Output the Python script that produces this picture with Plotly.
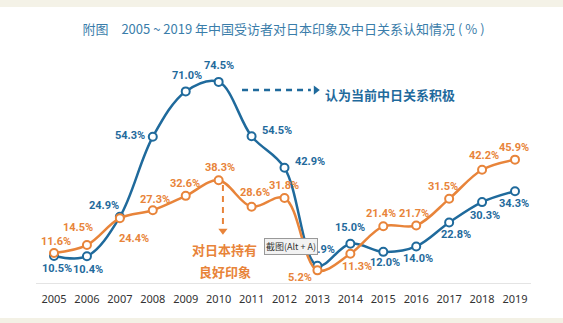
import plotly.graph_objects as go

years = list(range(2005, 2020))
relation_positive = [10.5, 10.4, 24.9, 54.3, 71.0, 74.5, 54.5, 42.9, 6.9, 15.0, 12.0, 14.0, 22.8, 30.3, 34.3]
good_impression = [11.6, 14.5, 24.4, 27.3, 32.6, 38.3, 28.6, 31.8, 5.2, 11.3, 21.4, 21.7, 31.5, 42.2, 45.9]
tick_labels = [str(y) for y in years]

title_text = "附图　2005 ~ 2019 年中国受访者对日本印象及中日关系认知情况 ( % )"
blue_note = "认为当前中日关系积极"
orange_note = ["对日本持有", "良好印象"]

BLUE = "#1f6a9c"
ORANGE = "#e8843a"
LABEL_FONT = "Roboto"
CJK = "Noto Sans CJK SC"

# label offsets (px) for each point: (xshift, yshift)
blue_off = [(3, -13), (1, -13), (-16, 11), (-23, 1), (1, 16), (0, 16), (25, 6), (25, 6),
            (6, 16), (0, 16), (2, -11), (2, -12), (7, -12), (3, -13), (-1, -12)]
orange_off = [(2, 11), (-9, 18), (14, -20), (2, 11), (-1, 12), (1, 13), (3, 14), (-1, 13),
              (-17, -7), (7, -13), (-2, 13), (-2, 12), (-6, 12), (2, 14), (-1, 12)]

fig = go.Figure()

fig.add_trace(go.Scatter(
    x=years, y=relation_positive, mode="lines+markers",
    line=dict(color=BLUE, width=2.5, shape="spline", smoothing=1.0),
    marker=dict(symbol="circle", size=8, color="white", line=dict(color=BLUE, width=2)),
    hoverinfo="skip", showlegend=False, cliponaxis=False))
fig.add_trace(go.Scatter(
    x=years, y=good_impression, mode="lines+markers",
    line=dict(color=ORANGE, width=2.5, shape="spline", smoothing=1.0),
    marker=dict(symbol="circle", size=8, color="white", line=dict(color=ORANGE, width=2)),
    hoverinfo="skip", showlegend=False, cliponaxis=False))

annotations = []
for yr, v, (dx, dy) in zip(years, relation_positive, blue_off):
    annotations.append(dict(x=yr, y=v, text=f"<b>{v:.1f}%</b>", showarrow=False,
                            xshift=dx, yshift=dy,
                            font=dict(family=LABEL_FONT, size=11, color=BLUE)))
for yr, v, (dx, dy) in zip(years, good_impression, orange_off):
    annotations.append(dict(x=yr, y=v, text=f"<b>{v:.1f}%</b>", showarrow=False,
                            xshift=dx, yshift=dy,
                            font=dict(family=LABEL_FONT, size=11, color=ORANGE)))

# notes
annotations.append(dict(x=2015.2, y=70.0, text=f"<b>{blue_note}</b>", showarrow=False,
                        font=dict(family=CJK, size=13, color=BLUE)))
annotations.append(dict(x=2010.19, y=12.7, text=f"<b>{orange_note[0]}</b>", showarrow=False,
                        font=dict(family=CJK, size=13, color=ORANGE)))
annotations.append(dict(x=2010.19, y=4.6, text=f"<b>{orange_note[1]}</b>", showarrow=False,
                        font=dict(family=CJK, size=13, color=ORANGE)))
# screenshot tooltip artifact
annotations.append(dict(x=2012.2, y=13.8, text="截图(Alt + A)", showarrow=False,
                        font=dict(family=CJK, size=9, color="#333"),
                        bgcolor="#f2f2f2", bordercolor="#999", borderwidth=1, borderpad=1))

fig.add_trace(go.Scatter(x=[2012.95], y=[71.5], mode="markers",
                         marker=dict(symbol="triangle-right", size=8, color=BLUE),
                         hoverinfo="skip", showlegend=False, cliponaxis=False))
fig.add_trace(go.Scatter(x=[2010.13], y=[19.8], mode="markers",
                         marker=dict(symbol="triangle-down", size=8, color=ORANGE),
                         hoverinfo="skip", showlegend=False, cliponaxis=False))

shapes = [
    dict(type="line", xref="x", yref="y", x0=2010.71, x1=2012.8, y0=71.5, y1=71.5,
         line=dict(color=BLUE, width=2.5, dash="6px,5px")),
    dict(type="line", xref="x", yref="y", x0=2010.13, x1=2010.13, y0=36.6, y1=21.5,
         line=dict(color=ORANGE, width=2, dash="6px,5px")),
    dict(type="rect", xref="paper", yref="paper", x0=-0.1, x1=1.1, y0=1.1358, y1=1.17,
         fillcolor="#f4f2e7", line=dict(width=0), layer="below"),
    dict(type="rect", xref="paper", yref="paper", x0=-0.1, x1=1.1, y0=-0.144, y1=-0.17,
         fillcolor="#f3f1e5", line=dict(width=0), layer="below"),
]

fig.update_layout(
    width=563, height=323,
    margin=dict(l=36, r=32, t=40, b=40),
    paper_bgcolor="white", plot_bgcolor="white",
    title=dict(text=title_text, x=0.5, xref="paper", xanchor="center",
               y=1 - 29 / 323, yanchor="middle",
               font=dict(family=CJK, size=13, color="#3a7daa")),
    xaxis=dict(range=[2004.453, 2019.486], tickmode="array", tickvals=years, ticktext=tick_labels,
               showgrid=False, zeroline=False, showline=True, linecolor="#e4e4e4", linewidth=1,
               ticks="", ticklabelstandoff=6,
               tickfont=dict(family="Noto Sans", size=11, color="#333")),
    yaxis=dict(range=[0.55, 89.9], visible=False, showgrid=False, zeroline=False),
    annotations=annotations, shapes=shapes,
)

fig.write_html("out.html")
